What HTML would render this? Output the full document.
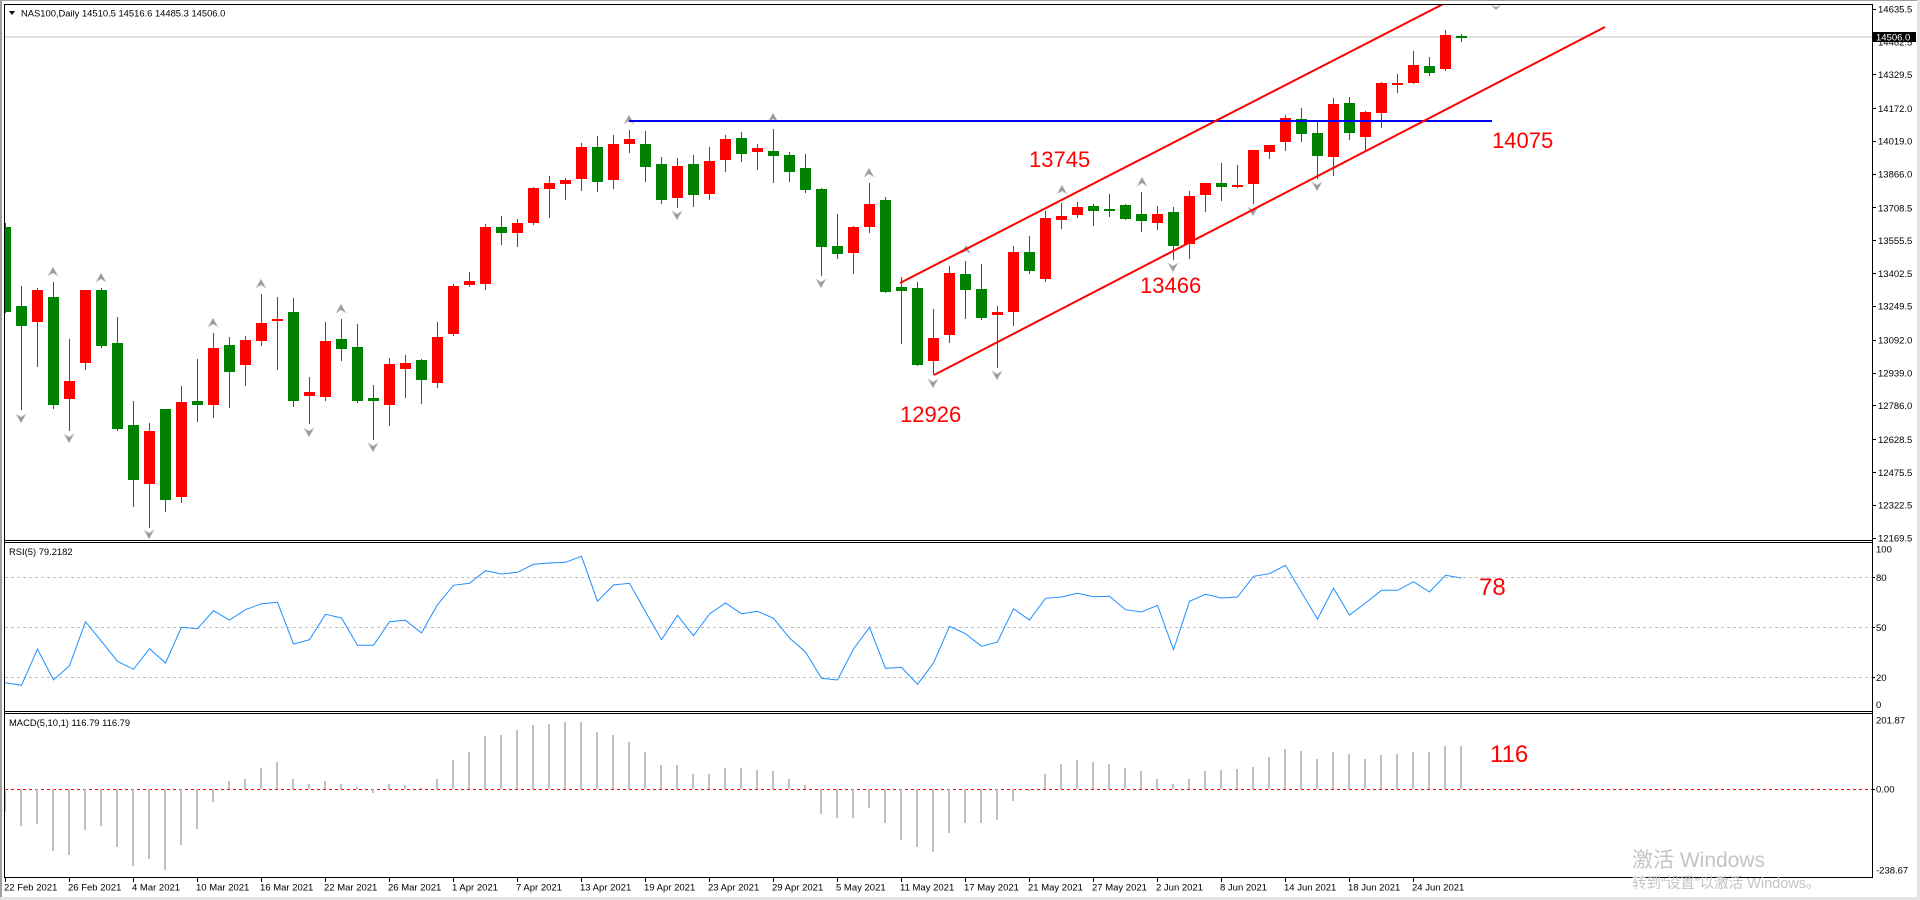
<!DOCTYPE html>
<html><head><meta charset="utf-8"><style>
html,body{margin:0;padding:0;background:#fff;}
svg{display:block;}
</style></head><body>
<svg width="1920" height="900" xmlns="http://www.w3.org/2000/svg" font-family="'Liberation Sans', Arial, sans-serif">
<defs>
<clipPath id="cm"><rect x="5" y="5" width="1867" height="535"/></clipPath>
<clipPath id="cr"><rect x="5" y="543" width="1867" height="168"/></clipPath>
<clipPath id="cd"><rect x="5" y="714" width="1867" height="163"/></clipPath>
</defs>
<rect x="0" y="0" width="1920" height="900" fill="#fff"/>
<!-- outer frame -->
<rect x="0" y="0" width="1920" height="1" fill="#a0a0a0"/>
<rect x="0" y="0" width="2" height="900" fill="#a0a0a0"/>
<rect x="0" y="897" width="1920" height="3" fill="#e3e3e3"/>
<rect x="1917" y="0" width="3" height="900" fill="#e3e3e3"/>

<!-- main chart -->
<g clip-path="url(#cm)">
<line x1="5" y1="37" x2="1872" y2="37" stroke="#c0c0c0" stroke-width="1"/>
<g fill="#008000">
<rect x="0" y="227" width="11" height="85"/><rect x="5" y="223" width="1" height="90"/>
<rect x="16" y="306" width="11" height="20"/><rect x="21" y="286" width="1" height="124"/>
<rect x="48" y="297" width="11" height="108"/><rect x="53" y="282" width="1" height="127"/>
<rect x="96" y="290" width="11" height="56"/><rect x="101" y="288" width="1" height="60"/>
<rect x="112" y="343" width="11" height="86"/><rect x="117" y="317" width="1" height="114"/>
<rect x="128" y="425" width="11" height="55"/><rect x="133" y="401" width="1" height="106"/>
<rect x="160" y="409" width="11" height="91"/><rect x="165" y="409" width="1" height="103"/>
<rect x="192" y="401" width="11" height="4"/><rect x="197" y="359" width="1" height="63"/>
<rect x="224" y="345" width="11" height="27"/><rect x="229" y="337" width="1" height="71"/>
<rect x="288" y="312" width="11" height="89"/><rect x="293" y="298" width="1" height="109"/>
<rect x="336" y="339" width="11" height="10"/><rect x="341" y="319" width="1" height="42"/>
<rect x="352" y="347" width="11" height="54"/><rect x="357" y="324" width="1" height="79"/>
<rect x="368" y="398" width="11" height="3"/><rect x="373" y="385" width="1" height="55"/>
<rect x="416" y="360" width="11" height="20"/><rect x="421" y="359" width="1" height="45"/>
<rect x="496" y="227" width="11" height="6"/><rect x="501" y="216" width="1" height="29"/>
<rect x="592" y="147" width="11" height="35"/><rect x="597" y="136" width="1" height="56"/>
<rect x="640" y="144" width="11" height="23"/><rect x="645" y="131" width="1" height="51"/>
<rect x="656" y="164" width="11" height="36"/><rect x="661" y="157" width="1" height="47"/>
<rect x="688" y="164" width="11" height="31"/><rect x="693" y="155" width="1" height="52"/>
<rect x="736" y="138" width="11" height="16"/><rect x="741" y="132" width="1" height="30"/>
<rect x="768" y="151" width="11" height="5"/><rect x="773" y="129" width="1" height="54"/>
<rect x="784" y="155" width="11" height="17"/><rect x="789" y="152" width="1" height="30"/>
<rect x="800" y="168" width="11" height="22"/><rect x="805" y="154" width="1" height="39"/>
<rect x="816" y="189" width="11" height="58"/><rect x="821" y="188" width="1" height="88"/>
<rect x="832" y="246" width="11" height="8"/><rect x="837" y="214" width="1" height="45"/>
<rect x="880" y="200" width="11" height="92"/><rect x="885" y="197" width="1" height="96"/>
<rect x="896" y="287" width="11" height="4"/><rect x="901" y="277" width="1" height="67"/>
<rect x="912" y="288" width="11" height="77"/><rect x="917" y="282" width="1" height="84"/>
<rect x="960" y="274" width="11" height="16"/><rect x="965" y="261" width="1" height="58"/>
<rect x="976" y="289" width="11" height="29"/><rect x="981" y="264" width="1" height="56"/>
<rect x="1024" y="252" width="11" height="19"/><rect x="1029" y="236" width="1" height="38"/>
<rect x="1088" y="206" width="11" height="5"/><rect x="1093" y="204" width="1" height="22"/>
<rect x="1104" y="209" width="11" height="2"/><rect x="1109" y="194" width="1" height="23"/>
<rect x="1120" y="205" width="11" height="14"/><rect x="1125" y="204" width="1" height="16"/>
<rect x="1136" y="214" width="11" height="7"/><rect x="1141" y="192" width="1" height="40"/>
<rect x="1168" y="212" width="11" height="34"/><rect x="1173" y="207" width="1" height="53"/>
<rect x="1216" y="183" width="11" height="4"/><rect x="1221" y="163" width="1" height="38"/>
<rect x="1296" y="119" width="11" height="15"/><rect x="1301" y="108" width="1" height="34"/>
<rect x="1312" y="133" width="11" height="23"/><rect x="1317" y="122" width="1" height="57"/>
<rect x="1344" y="103" width="11" height="30"/><rect x="1349" y="97" width="1" height="43"/>
<rect x="1424" y="66" width="11" height="7"/><rect x="1429" y="57" width="1" height="19"/>
<rect x="1456" y="36" width="11" height="2"/><rect x="1461" y="34" width="1" height="8"/>
</g>
<g fill="#ff0000">
<rect x="32" y="290" width="11" height="32"/><rect x="37" y="288" width="1" height="79"/>
<rect x="64" y="381" width="11" height="18"/><rect x="69" y="339" width="1" height="92"/>
<rect x="80" y="290" width="11" height="73"/><rect x="85" y="290" width="1" height="80"/>
<rect x="144" y="431" width="11" height="53"/><rect x="149" y="423" width="1" height="105"/>
<rect x="176" y="402" width="11" height="95"/><rect x="181" y="386" width="1" height="117"/>
<rect x="208" y="348" width="11" height="57"/><rect x="213" y="333" width="1" height="85"/>
<rect x="240" y="340" width="11" height="25"/><rect x="245" y="336" width="1" height="50"/>
<rect x="256" y="323" width="11" height="18"/><rect x="261" y="294" width="1" height="52"/>
<rect x="272" y="319" width="11" height="2"/><rect x="277" y="297" width="1" height="73"/>
<rect x="304" y="392" width="11" height="4"/><rect x="309" y="377" width="1" height="47"/>
<rect x="320" y="341" width="11" height="56"/><rect x="325" y="322" width="1" height="79"/>
<rect x="384" y="364" width="11" height="41"/><rect x="389" y="358" width="1" height="68"/>
<rect x="400" y="363" width="11" height="6"/><rect x="405" y="355" width="1" height="43"/>
<rect x="432" y="337" width="11" height="46"/><rect x="437" y="322" width="1" height="66"/>
<rect x="448" y="286" width="11" height="48"/><rect x="453" y="284" width="1" height="52"/>
<rect x="464" y="281" width="11" height="4"/><rect x="469" y="272" width="1" height="15"/>
<rect x="480" y="227" width="11" height="57"/><rect x="485" y="224" width="1" height="66"/>
<rect x="512" y="223" width="11" height="10"/><rect x="517" y="219" width="1" height="28"/>
<rect x="528" y="188" width="11" height="35"/><rect x="533" y="187" width="1" height="38"/>
<rect x="544" y="183" width="11" height="6"/><rect x="549" y="176" width="1" height="42"/>
<rect x="560" y="180" width="11" height="4"/><rect x="565" y="178" width="1" height="22"/>
<rect x="576" y="147" width="11" height="32"/><rect x="581" y="143" width="1" height="48"/>
<rect x="608" y="144" width="11" height="36"/><rect x="613" y="135" width="1" height="54"/>
<rect x="624" y="139" width="11" height="5"/><rect x="629" y="130" width="1" height="23"/>
<rect x="672" y="166" width="11" height="32"/><rect x="677" y="158" width="1" height="50"/>
<rect x="704" y="161" width="11" height="33"/><rect x="709" y="147" width="1" height="53"/>
<rect x="720" y="139" width="11" height="21"/><rect x="725" y="135" width="1" height="37"/>
<rect x="752" y="148" width="11" height="4"/><rect x="757" y="144" width="1" height="26"/>
<rect x="848" y="227" width="11" height="26"/><rect x="853" y="226" width="1" height="48"/>
<rect x="864" y="204" width="11" height="23"/><rect x="869" y="183" width="1" height="50"/>
<rect x="928" y="338" width="11" height="23"/><rect x="933" y="309" width="1" height="66"/>
<rect x="944" y="273" width="11" height="62"/><rect x="949" y="266" width="1" height="77"/>
<rect x="992" y="312" width="11" height="3"/><rect x="997" y="306" width="1" height="62"/>
<rect x="1008" y="252" width="11" height="60"/><rect x="1013" y="246" width="1" height="80"/>
<rect x="1040" y="218" width="11" height="61"/><rect x="1045" y="211" width="1" height="71"/>
<rect x="1056" y="216" width="11" height="4"/><rect x="1061" y="203" width="1" height="26"/>
<rect x="1072" y="207" width="11" height="8"/><rect x="1077" y="202" width="1" height="16"/>
<rect x="1152" y="214" width="11" height="9"/><rect x="1157" y="206" width="1" height="24"/>
<rect x="1184" y="196" width="11" height="48"/><rect x="1189" y="191" width="1" height="68"/>
<rect x="1200" y="183" width="11" height="12"/><rect x="1205" y="183" width="1" height="29"/>
<rect x="1232" y="185" width="11" height="2"/><rect x="1237" y="165" width="1" height="23"/>
<rect x="1248" y="150" width="11" height="34"/><rect x="1253" y="150" width="1" height="54"/>
<rect x="1264" y="145" width="11" height="7"/><rect x="1269" y="145" width="1" height="14"/>
<rect x="1280" y="118" width="11" height="24"/><rect x="1285" y="115" width="1" height="36"/>
<rect x="1328" y="104" width="11" height="53"/><rect x="1333" y="98" width="1" height="78"/>
<rect x="1360" y="112" width="11" height="25"/><rect x="1365" y="111" width="1" height="40"/>
<rect x="1376" y="83" width="11" height="30"/><rect x="1381" y="82" width="1" height="46"/>
<rect x="1392" y="83" width="11" height="2"/><rect x="1397" y="74" width="1" height="19"/>
<rect x="1408" y="65" width="11" height="18"/><rect x="1413" y="51" width="1" height="33"/>
<rect x="1440" y="35" width="11" height="34"/><rect x="1445" y="30" width="1" height="41"/>
</g>
<!-- fractal arrows -->
<g fill="#9a9a9a" stroke="#d0d0d0" stroke-width="0.6">
<polygon points="53,267 58,276 53,273 48,276"/>
<polygon points="101,273 106,282 101,279 96,282"/>
<polygon points="213,318 218,327 213,324 208,327"/>
<polygon points="261,279 266,288 261,285 256,288"/>
<polygon points="341,304 346,313 341,310 336,313"/>
<polygon points="629,115 634,124 629,121 624,124"/>
<polygon points="773,113 778,122 773,119 768,122"/>
<polygon points="869,168 874,177 869,174 864,177"/>
<polygon points="966,245 971,254 966,251 961,254"/>
<polygon points="1062,185 1067,194 1062,191 1057,194"/>
<polygon points="1142,177 1147,186 1142,183 1137,186"/>
<polygon points="21,423 26,414 21,417 16,414"/>
<polygon points="69,443 74,434 69,437 64,434"/>
<polygon points="149,539 154,530 149,533 144,530"/>
<polygon points="309,437 314,428 309,431 304,428"/>
<polygon points="373,452 378,443 373,446 368,443"/>
<polygon points="677,220 682,211 677,214 672,211"/>
<polygon points="821,288 826,279 821,282 816,279"/>
<polygon points="933,388 938,379 933,382 928,379"/>
<polygon points="997,380 1002,371 997,374 992,371"/>
<polygon points="1173,272 1178,263 1173,266 1168,263"/>
<polygon points="1253,216 1258,207 1253,210 1248,207"/>
<polygon points="1317,191 1322,182 1317,185 1312,182"/>
<polygon points="1496,10 1501,5 1496,7 1491,5"/>
</g>
<!-- blue horizontal line -->
<line x1="629" y1="121" x2="1492" y2="121" stroke="#0000ff" stroke-width="2"/>
<!-- channel -->
<line x1="900" y1="283" x2="1451" y2="0" stroke="#ff0000" stroke-width="2"/>
<line x1="934" y1="375" x2="1605" y2="27" stroke="#ff0000" stroke-width="2"/>
</g>
<!-- annotations -->
<g fill="#ff0000" font-size="22">
<text x="1029" y="167">13745</text>
<text x="900" y="422">12926</text>
<text x="1140" y="293">13466</text>
<text x="1492" y="148">14075</text>
</g>
<text x="1479" y="595" fill="#ff0000" font-size="24">78</text>
<text x="1490" y="762" fill="#ff0000" font-size="24">116</text>

<!-- title -->
<polygon points="9,11 15,11 12,15" fill="#000"/>
<text x="21" y="16.5" font-size="9.4" fill="#000">NAS100,Daily  14510.5 14516.6 14485.3 14506.0</text>

<!-- RSI -->
<g stroke="#c0c0c0" stroke-width="1" stroke-dasharray="3,3">
<line x1="5" y1="577.5" x2="1872" y2="577.5"/>
<line x1="5" y1="627.5" x2="1872" y2="627.5"/>
<line x1="5" y1="677.5" x2="1872" y2="677.5"/>
</g>
<g clip-path="url(#cr)">
<polyline fill="none" stroke="#1e90ff" stroke-width="1" points="3,682 5.5,682.7 21.5,685.3 37.5,649 53.5,680 69.5,665.7 85.5,621.7 101.5,641.3 117.5,661.3 133.5,669.3 149.5,648.7 165.5,663 181.5,627.3 197.5,628.7 213.5,610.7 229.5,620 245.5,609.7 261.5,603.7 277.5,602.3 293.5,644 309.5,639.7 325.5,614.3 341.5,618 357.5,645.3 373.5,645.3 389.5,621.7 405.5,620.3 421.5,633 437.5,604.7 453.5,585.3 469.5,583.3 485.5,570.7 501.5,574 517.5,572.3 533.5,564.3 549.5,563 565.5,562.3 581.5,556.3 597.5,601.3 613.5,585 629.5,583.3 645.5,611.7 661.5,639.7 677.5,615.3 693.5,635.7 709.5,614 725.5,603 741.5,613.7 757.5,611.3 773.5,618.3 789.5,638 805.5,652 821.5,678.3 837.5,680 853.5,649 869.5,627.3 885.5,668.3 901.5,667.3 917.5,684.3 933.5,663 949.5,626.3 965.5,633.7 981.5,646.3 997.5,642 1013.5,608.7 1029.5,620 1045.5,598.3 1061.5,597 1077.5,593.3 1093.5,596.7 1109.5,596.3 1125.5,609.7 1141.5,612 1157.5,605.3 1173.5,649.7 1189.5,601.3 1205.5,594.3 1221.5,598 1237.5,597 1253.5,576.3 1269.5,573.7 1285.5,565.3 1301.5,592.3 1317.5,619 1333.5,588.3 1349.5,615 1365.5,603 1381.5,590.3 1397.5,590.3 1413.5,581.7 1429.5,592 1445.5,575.3 1461.5,578"/>
</g>
<text x="9" y="555" font-size="9.4" fill="#000">RSI(5) 79.2182</text>

<!-- MACD -->
<line x1="5" y1="789.5" x2="1872" y2="789.5" stroke="#ff0000" stroke-width="1" stroke-dasharray="3,3"/>
<g clip-path="url(#cd)" fill="#c0c0c0">
<rect x="4" y="789" width="2" height="23"/>
<rect x="20" y="789" width="2" height="37"/>
<rect x="36" y="789" width="2" height="35"/>
<rect x="52" y="789" width="2" height="62"/>
<rect x="68" y="789" width="2" height="66"/>
<rect x="84" y="789" width="2" height="41"/>
<rect x="100" y="789" width="2" height="37"/>
<rect x="116" y="789" width="2" height="58"/>
<rect x="132" y="789" width="2" height="77"/>
<rect x="148" y="789" width="2" height="70"/>
<rect x="164" y="789" width="2" height="81"/>
<rect x="180" y="789" width="2" height="56"/>
<rect x="196" y="789" width="2" height="40"/>
<rect x="212" y="789" width="2" height="13"/>
<rect x="228" y="781" width="2" height="8"/>
<rect x="244" y="779" width="2" height="10"/>
<rect x="260" y="768" width="2" height="21"/>
<rect x="276" y="762" width="2" height="27"/>
<rect x="292" y="779" width="2" height="10"/>
<rect x="308" y="784" width="2" height="5"/>
<rect x="324" y="781" width="2" height="8"/>
<rect x="340" y="784" width="2" height="5"/>
<rect x="356" y="787" width="2" height="2"/>
<rect x="372" y="789" width="2" height="4"/>
<rect x="388" y="784" width="2" height="5"/>
<rect x="404" y="785" width="2" height="4"/>
<rect x="420" y="788" width="2" height="1"/>
<rect x="436" y="779" width="2" height="10"/>
<rect x="452" y="760" width="2" height="29"/>
<rect x="468" y="752" width="2" height="37"/>
<rect x="484" y="736" width="2" height="53"/>
<rect x="500" y="735" width="2" height="54"/>
<rect x="516" y="730" width="2" height="59"/>
<rect x="532" y="725" width="2" height="64"/>
<rect x="548" y="724" width="2" height="65"/>
<rect x="564" y="722" width="2" height="67"/>
<rect x="580" y="722" width="2" height="67"/>
<rect x="596" y="732" width="2" height="57"/>
<rect x="612" y="735" width="2" height="54"/>
<rect x="628" y="742" width="2" height="47"/>
<rect x="644" y="752" width="2" height="37"/>
<rect x="660" y="765" width="2" height="24"/>
<rect x="676" y="765" width="2" height="24"/>
<rect x="692" y="774" width="2" height="15"/>
<rect x="708" y="774" width="2" height="15"/>
<rect x="724" y="768" width="2" height="21"/>
<rect x="740" y="768" width="2" height="21"/>
<rect x="756" y="770" width="2" height="19"/>
<rect x="772" y="771" width="2" height="18"/>
<rect x="788" y="779" width="2" height="10"/>
<rect x="804" y="785" width="2" height="4"/>
<rect x="820" y="789" width="2" height="25"/>
<rect x="836" y="789" width="2" height="29"/>
<rect x="852" y="789" width="2" height="29"/>
<rect x="868" y="789" width="2" height="19"/>
<rect x="884" y="789" width="2" height="34"/>
<rect x="900" y="789" width="2" height="51"/>
<rect x="916" y="789" width="2" height="58"/>
<rect x="932" y="789" width="2" height="63"/>
<rect x="948" y="789" width="2" height="44"/>
<rect x="964" y="789" width="2" height="34"/>
<rect x="980" y="789" width="2" height="34"/>
<rect x="996" y="789" width="2" height="31"/>
<rect x="1012" y="789" width="2" height="12"/>
<rect x="1028" y="789" width="2" height="2"/>
<rect x="1044" y="774" width="2" height="15"/>
<rect x="1060" y="764" width="2" height="25"/>
<rect x="1076" y="760" width="2" height="29"/>
<rect x="1092" y="762" width="2" height="27"/>
<rect x="1108" y="764" width="2" height="25"/>
<rect x="1124" y="768" width="2" height="21"/>
<rect x="1140" y="771" width="2" height="18"/>
<rect x="1156" y="779" width="2" height="10"/>
<rect x="1172" y="784" width="2" height="5"/>
<rect x="1188" y="779" width="2" height="10"/>
<rect x="1204" y="771" width="2" height="18"/>
<rect x="1220" y="770" width="2" height="19"/>
<rect x="1236" y="769" width="2" height="20"/>
<rect x="1252" y="767" width="2" height="22"/>
<rect x="1268" y="757" width="2" height="32"/>
<rect x="1284" y="749" width="2" height="40"/>
<rect x="1300" y="751" width="2" height="38"/>
<rect x="1316" y="759" width="2" height="30"/>
<rect x="1332" y="752" width="2" height="37"/>
<rect x="1348" y="754" width="2" height="35"/>
<rect x="1364" y="759" width="2" height="30"/>
<rect x="1380" y="755" width="2" height="34"/>
<rect x="1396" y="754" width="2" height="35"/>
<rect x="1412" y="752" width="2" height="37"/>
<rect x="1428" y="752" width="2" height="37"/>
<rect x="1444" y="746" width="2" height="43"/>
<rect x="1460" y="746" width="2" height="43"/>
</g>
<text x="9" y="726" font-size="9.4" fill="#000">MACD(5,10,1) 116.79 116.79</text>

<!-- frames -->
<g fill="#000">
<rect x="4" y="4" width="1869" height="1"/>
<rect x="4" y="4" width="1" height="874"/>
<rect x="1872" y="4" width="1" height="874"/>
<rect x="4" y="540" width="1869" height="1"/>
<rect x="4" y="542" width="1869" height="1"/>
<rect x="4" y="711" width="1869" height="1"/>
<rect x="4" y="713" width="1869" height="1"/>
<rect x="4" y="877" width="1869" height="1"/>
</g>

<!-- price axis -->
<g stroke="#000" stroke-width="1">
<line x1="1872" y1="9.5" x2="1876" y2="9.5"/>
<line x1="1872" y1="74.5" x2="1876" y2="74.5"/>
<line x1="1872" y1="108.5" x2="1876" y2="108.5"/>
<line x1="1872" y1="141.5" x2="1876" y2="141.5"/>
<line x1="1872" y1="174.5" x2="1876" y2="174.5"/>
<line x1="1872" y1="207.5" x2="1876" y2="207.5"/>
<line x1="1872" y1="240.5" x2="1876" y2="240.5"/>
<line x1="1872" y1="273.5" x2="1876" y2="273.5"/>
<line x1="1872" y1="306.5" x2="1876" y2="306.5"/>
<line x1="1872" y1="340.5" x2="1876" y2="340.5"/>
<line x1="1872" y1="373.5" x2="1876" y2="373.5"/>
<line x1="1872" y1="405.5" x2="1876" y2="405.5"/>
<line x1="1872" y1="439.5" x2="1876" y2="439.5"/>
<line x1="1872" y1="472.5" x2="1876" y2="472.5"/>
<line x1="1872" y1="505.5" x2="1876" y2="505.5"/>
<line x1="1872" y1="538.5" x2="1876" y2="538.5"/>
<line x1="1872" y1="577.5" x2="1875" y2="577.5"/>
<line x1="1872" y1="627.5" x2="1875" y2="627.5"/>
<line x1="1872" y1="677.5" x2="1875" y2="677.5"/>
<line x1="1872" y1="789.5" x2="1875" y2="789.5"/>
</g>
<g font-size="9.5" fill="#000">
<text x="1878" y="12.5">14635.5</text>
<text x="1878" y="45.3">14482.5</text>
<text x="1878" y="78">14329.5</text>
<text x="1878" y="111.8">14172.0</text>
<text x="1878" y="144.7">14019.0</text>
<text x="1878" y="177.5">13866.0</text>
<text x="1878" y="211.3">13708.5</text>
<text x="1878" y="244.1">13555.5</text>
<text x="1878" y="276.9">13402.5</text>
<text x="1878" y="309.7">13249.5</text>
<text x="1878" y="343.5">13092.0</text>
<text x="1878" y="376.4">12939.0</text>
<text x="1878" y="409.2">12786.0</text>
<text x="1878" y="443">12628.5</text>
<text x="1878" y="475.8">12475.5</text>
<text x="1878" y="508.6">12322.5</text>
<text x="1878" y="541.4">12169.5</text>
<text x="1876" y="552.6">100</text>
<text x="1876" y="580.8">80</text>
<text x="1876" y="631.2">50</text>
<text x="1876" y="680.8">20</text>
<text x="1876" y="708">0</text>
<text x="1876" y="723.5">201.87</text>
<text x="1876" y="792.6">0.00</text>
<text x="1876" y="873.5">-238.67</text>
</g>
<rect x="1873" y="32" width="43" height="10" fill="#000"/>
<text x="1876" y="40.5" font-size="9.5" fill="#fff">14506.0</text>

<!-- time axis -->
<g stroke="#000" stroke-width="1">
<line x1="5.5" y1="877" x2="5.5" y2="882"/>
<line x1="69.5" y1="877" x2="69.5" y2="882"/>
<line x1="133.5" y1="877" x2="133.5" y2="882"/>
<line x1="197.5" y1="877" x2="197.5" y2="882"/>
<line x1="261.5" y1="877" x2="261.5" y2="882"/>
<line x1="325.5" y1="877" x2="325.5" y2="882"/>
<line x1="389.5" y1="877" x2="389.5" y2="882"/>
<line x1="453.5" y1="877" x2="453.5" y2="882"/>
<line x1="517.5" y1="877" x2="517.5" y2="882"/>
<line x1="581.5" y1="877" x2="581.5" y2="882"/>
<line x1="645.5" y1="877" x2="645.5" y2="882"/>
<line x1="709.5" y1="877" x2="709.5" y2="882"/>
<line x1="773.5" y1="877" x2="773.5" y2="882"/>
<line x1="837.5" y1="877" x2="837.5" y2="882"/>
<line x1="901.5" y1="877" x2="901.5" y2="882"/>
<line x1="965.5" y1="877" x2="965.5" y2="882"/>
<line x1="1029.5" y1="877" x2="1029.5" y2="882"/>
<line x1="1093.5" y1="877" x2="1093.5" y2="882"/>
<line x1="1157.5" y1="877" x2="1157.5" y2="882"/>
<line x1="1221.5" y1="877" x2="1221.5" y2="882"/>
<line x1="1285.5" y1="877" x2="1285.5" y2="882"/>
<line x1="1349.5" y1="877" x2="1349.5" y2="882"/>
<line x1="1413.5" y1="877" x2="1413.5" y2="882"/>
</g>
<g font-size="9.5" fill="#000">
<text x="4" y="890.5">22 Feb 2021</text>
<text x="68" y="890.5">26 Feb 2021</text>
<text x="132" y="890.5">4 Mar 2021</text>
<text x="196" y="890.5">10 Mar 2021</text>
<text x="260" y="890.5">16 Mar 2021</text>
<text x="324" y="890.5">22 Mar 2021</text>
<text x="388" y="890.5">26 Mar 2021</text>
<text x="452" y="890.5">1 Apr 2021</text>
<text x="516" y="890.5">7 Apr 2021</text>
<text x="580" y="890.5">13 Apr 2021</text>
<text x="644" y="890.5">19 Apr 2021</text>
<text x="708" y="890.5">23 Apr 2021</text>
<text x="772" y="890.5">29 Apr 2021</text>
<text x="836" y="890.5">5 May 2021</text>
<text x="900" y="890.5">11 May 2021</text>
<text x="964" y="890.5">17 May 2021</text>
<text x="1028" y="890.5">21 May 2021</text>
<text x="1092" y="890.5">27 May 2021</text>
<text x="1156" y="890.5">2 Jun 2021</text>
<text x="1220" y="890.5">8 Jun 2021</text>
<text x="1284" y="890.5">14 Jun 2021</text>
<text x="1348" y="890.5">18 Jun 2021</text>
<text x="1412" y="890.5">24 Jun 2021</text>
</g>

<!-- watermark -->
<g fill="#c4c4c4" font-family="'Liberation Sans','Noto Sans CJK SC',sans-serif">
<text x="1632" y="867" font-size="21">激活 Windows</text>
<text x="1632" y="888" font-size="14.5">转到“设置”以激活 Windows。</text>
</g>
</svg>
</body></html>
